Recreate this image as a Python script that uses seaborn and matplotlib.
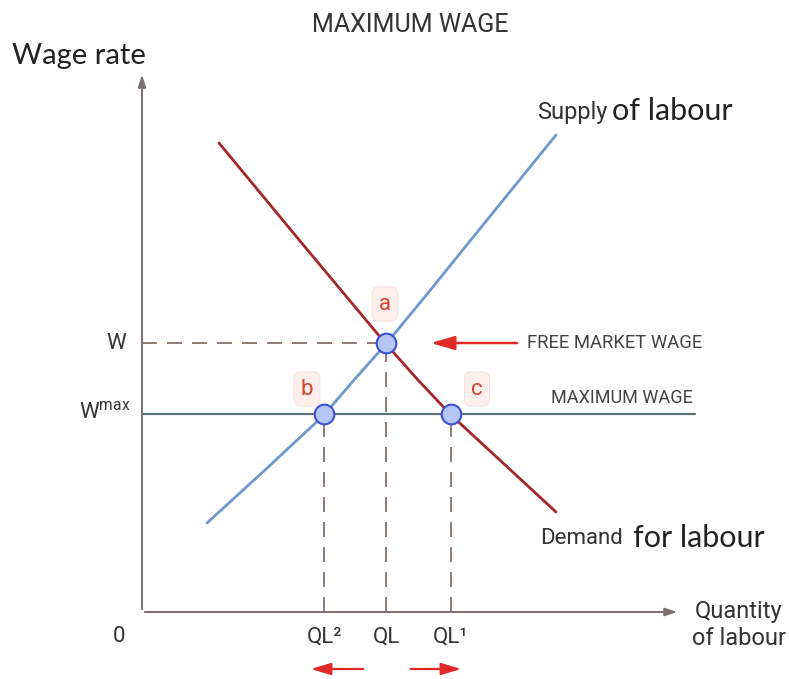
import matplotlib
matplotlib.use("Agg")
import matplotlib.pyplot as plt
from matplotlib import font_manager
import seaborn as sns
import pandas as pd

# ---- data ----
supply_q = [6.5, 12.3, 18.2, 21.2, 24.4, 28.6, 32.8, 37.1, 41.4]
supply_w = [8.9, 14.2, 19.7, 23.2, 26.8, 31.9, 37.1, 42.4, 47.7]
demand_q = [7.7, 15.8, 24.4, 27.6, 30.9, 36.1, 41.4]
demand_w = [46.9, 37.1, 26.8, 23.2, 19.7, 14.9, 10.0]
w_free = 26.9
w_max = 19.8
ql = 24.4
ql2 = 18.2
ql1 = 30.9
point_names = ["a", "b", "c"]
point_q = [ql, ql2, ql1]
point_w = [w_free, w_max, w_max]
x_tick_labels = ["QL²", "QL", "QL¹"]
y_tick_labels = ["W", "W$^{\\mathregular{max}}$"]

sns.set_theme(style="white")
names = {f.name for f in font_manager.fontManager.ttflist}
narrow = "Liberation Sans Narrow" if "Liberation Sans Narrow" in names else "Roboto"
body = "Lato" if "Lato" in names else "Open Sans"
plt.rcParams["font.family"] = [narrow, "DejaVu Sans"]

fig = plt.figure(figsize=(7.89, 6.79), dpi=100)
ax = fig.add_axes([0, 0, 1, 1])
ax.set_xlim(-14.2, 64.7)
ax.set_ylim(-6.7, 61.2)
ax.axis("off")

axis_col = "#7b6e6e"
dash_col = "#7a665e"
# axes arrows
ax.annotate("", xy=(0, 54.0), xytext=(0, 0),
            arrowprops=dict(arrowstyle="-|>,head_length=0.6,head_width=0.2", color=axis_col, lw=1.4))
ax.annotate("", xy=(53.8, 0), xytext=(0, 0),
            arrowprops=dict(arrowstyle="-|>,head_length=0.6,head_width=0.2", color=axis_col, lw=1.4))

# max wage line
ax.plot([0, 55.3], [w_max, w_max], color="#5f7474", lw=1.6, zorder=2)
# dashed guides
ax.plot([0, ql], [w_free, w_free], color=dash_col, lw=1.2, dashes=(9, 6), zorder=1)
ax.plot([ql, ql], [0, w_free], color=dash_col, lw=1.2, dashes=(9, 6), zorder=1)
ax.plot([ql2, ql2], [0, w_max], color=dash_col, lw=1.2, dashes=(9, 6), zorder=1)
ax.plot([ql1, ql1], [0, w_max], color=dash_col, lw=1.2, dashes=(9, 6), zorder=1)

sup = pd.DataFrame({"q": supply_q, "w": supply_w})
dem = pd.DataFrame({"q": demand_q, "w": demand_w})
sns.lineplot(data=sup, x="q", y="w", ax=ax, color="#6f98cc", lw=2.0, sort=False, zorder=3)
sns.lineplot(data=dem, x="q", y="w", ax=ax, color="#a3282a", lw=2.0, sort=False, zorder=3)

pts = pd.DataFrame({"q": point_q, "w": point_w, "n": point_names})
sns.scatterplot(data=pts, x="q", y="w", ax=ax, s=200, color="#b6c6f4",
                edgecolor="#3c50d2", linewidth=1.5, zorder=5)
ax.set_xlabel("")
ax.set_ylabel("")

offsets = {"a": (-0.1, 3.9), "b": (-1.7, 2.5), "c": (2.6, 2.5)}
for n, q, w in zip(point_names, point_q, point_w):
    dx, dy = offsets[n]
    ax.text(q + dx, w + dy, n, color="#d6432f", fontsize=16, ha="center", va="center",
            bbox=dict(boxstyle="round,pad=0.3", fc="#fcefec", ec="#f6e4e0", lw=0.8), zorder=6)

# tick labels
for q, lab in zip([ql2, ql, ql1], x_tick_labels):
    ax.text(q, -2.5, lab, fontsize=16, color="#333333", ha="center", va="center")
ax.text(-2.3, -2.5, "0", fontsize=16, color="#333333", ha="center", va="center")
ax.text(-1.6, w_free, y_tick_labels[0], fontsize=16, color="#333333", ha="right", va="center")
ax.text(-1.2, w_max + 0.2, y_tick_labels[1], fontsize=16, color="#333333", ha="right", va="center")

# red arrows
red = "#e02a2a"
ax.annotate("", xy=(16.6, -5.7), xytext=(22.4, -5.7),
            arrowprops=dict(arrowstyle="-|>,head_length=1.0,head_width=0.3", color=red, lw=1.6))
ax.annotate("", xy=(32.2, -5.7), xytext=(26.6, -5.7),
            arrowprops=dict(arrowstyle="-|>,head_length=1.0,head_width=0.3", color=red, lw=1.6))
ax.annotate("", xy=(28.6, w_free), xytext=(37.8, w_free),
            arrowprops=dict(arrowstyle="-|>,head_length=1.2,head_width=0.35", color=red, lw=1.8))

ax.text(38.5, w_free, "FREE MARKET WAGE", fontsize=13.3, color="#444444", ha="left", va="center")
ax.text(55.1, w_max + 1.6, "MAXIMUM WAGE", fontsize=13, color="#444444", ha="right", va="center")

# titles and labels
ax.text(26.8, 58.7, "MAXIMUM WAGE", fontsize=18, color="#333333", ha="center", va="center")
ax.text(-13.0, 55.6, "Wage rate", fontsize=21, color="#222222", ha="left", va="center",
        family=[body, "DejaVu Sans"])
ax.text(39.5, 50.0, "Supply", fontsize=17, color="#333333", ha="left", va="center")
ax.text(47.0, 50.1, "of labour", fontsize=22, color="#222222", ha="left", va="center",
        family=[body, "DejaVu Sans"])
ax.text(39.8, 7.3, "Demand", fontsize=16, color="#333333", ha="left", va="center")
ax.text(49.1, 7.4, "for labour", fontsize=22, color="#222222", ha="left", va="center",
        family=[body, "DejaVu Sans"])
ax.text(59.7, -1.3, "Quantity\nof labour", fontsize=17, color="#333333", ha="center", va="center",
        linespacing=1.25)

fig.savefig("out.png", dpi=100, facecolor="white")
